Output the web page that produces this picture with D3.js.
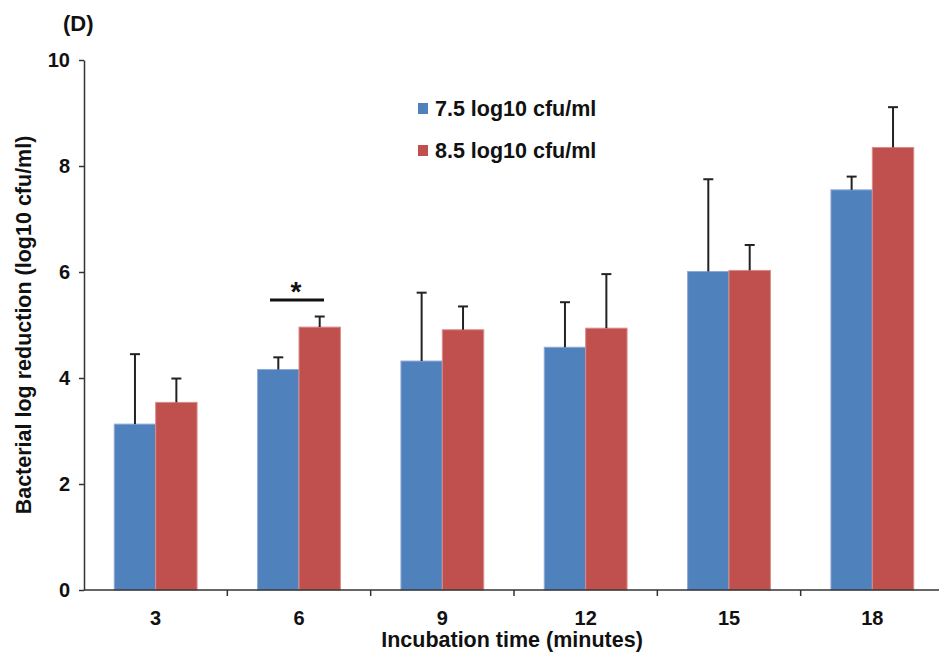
<!DOCTYPE html>
<html>
<head>
<meta charset="utf-8">
<script src="https://cdn.jsdelivr.net/npm/d3@7"></script>
<style>
  body { margin: 0; background: #fff; }
  text { font-family: Arial, "Liberation Sans", sans-serif; font-weight: bold; fill: #111; }
</style>
</head>
<body>
<svg width="939" height="667"></svg>
<script>
var width = 939, height = 667

// data
var times = ["3", "6", "9", "12", "15", "18"]
var seriesNames = ["7.5 log10 cfu/ml", "8.5 log10 cfu/ml"]
var low = [3.13, 4.16, 4.32, 4.58, 6.01, 7.55]
var lowErr = [1.32, 0.23, 1.29, 0.85, 1.74, 0.25]
var high = [3.54, 4.96, 4.91, 4.94, 6.03, 8.35]
var highErr = [0.45, 0.2, 0.44, 1.02, 0.48, 0.76]
var yTicks = [0, 2, 4, 6, 8, 10]
var colors = ["#4F81BD", "#C0504D"]
var edges = ["#8EAAD6", "#D98B89"]

var svg = d3.select("svg")

var x = d3.scaleBand().domain(times).range([84, 944]).paddingInner(0).paddingOuter(0)
var y = d3.scaleLinear().domain([0, 10]).range([590, 60])
var barW = 41.4

var rows = times.map(function(t, i) {
    return [
        {t: t, s: 0, v: low[i], e: lowErr[i]},
        {t: t, s: 1, v: high[i], e: highErr[i]}
    ]
}).flat()

function cx(d) {
    return x(d.t) + x.bandwidth() / 2 - barW / 2 + d.s * barW
}

// bars
svg.append("g").selectAll("rect")
    .data(rows)
    .join("rect")
    .attr("x", function(d) { return cx(d) - barW / 2 })
    .attr("y", function(d) { return y(d.v) })
    .attr("width", barW)
    .attr("height", function(d) { return y(0) - y(d.v) })
    .attr("fill", function(d) { return colors[d.s] })
    .attr("stroke", function(d) { return edges[d.s] })
    .attr("stroke-width", 1)

// error bars (upper only)
var eb = svg.append("g").attr("stroke", "#222").attr("stroke-width", 2)
eb.selectAll("line.v")
    .data(rows)
    .join("line")
    .attr("class", "v")
    .attr("x1", cx).attr("x2", cx)
    .attr("y1", function(d) { return y(d.v) })
    .attr("y2", function(d) { return y(d.v + d.e) })
eb.selectAll("line.c")
    .data(rows)
    .join("line")
    .attr("class", "c")
    .attr("x1", function(d) { return cx(d) - 5 })
    .attr("x2", function(d) { return cx(d) + 5 })
    .attr("y1", function(d) { return y(d.v + d.e) })
    .attr("y2", function(d) { return y(d.v + d.e) })

// y axis
var yAxis = svg.append("g")
    .attr("transform", "translate(84,0)")
    .call(d3.axisLeft(y).tickValues(yTicks).tickSize(5).tickSizeOuter(0).tickPadding(9))
yAxis.select(".domain").attr("stroke", "#333").attr("stroke-width", 1.5)
yAxis.selectAll(".tick line").attr("stroke", "#333").attr("stroke-width", 1.5)
yAxis.selectAll(".tick text").attr("font-size", 20).attr("font-family", "Arial, 'Liberation Sans', sans-serif").attr("fill", "#111")

// x axis: line plus ticks at band boundaries
var xg = svg.append("g").attr("transform", "translate(0," + y(0) + ")")
xg.append("line").attr("x1", 84).attr("x2", 944).attr("stroke", "#333").attr("stroke-width", 1.5)
xg.selectAll("line.tk")
    .data(times.slice(1))
    .join("line")
    .attr("class", "tk")
    .attr("x1", function(d) { return x(d) })
    .attr("x2", function(d) { return x(d) })
    .attr("y1", 0).attr("y2", 6)
    .attr("stroke", "#333").attr("stroke-width", 1.5)
xg.selectAll("text")
    .data(times)
    .join("text")
    .attr("x", function(d) { return x(d) + x.bandwidth() / 2 })
    .attr("y", 35)
    .attr("text-anchor", "middle")
    .attr("font-size", 20)
    .text(function(d) { return d })

// axis titles
svg.append("text")
    .attr("x", 512).attr("y", 647)
    .attr("text-anchor", "middle")
    .attr("font-size", 21.5)
    .text("Incubation time (minutes)")
svg.append("text")
    .attr("transform", "translate(31,325) rotate(-90)")
    .attr("text-anchor", "middle")
    .attr("font-size", 21.5)
    .text("Bacterial log reduction (log10 cfu/ml)")

// panel label
svg.append("text").attr("x", 63).attr("y", 31).attr("font-size", 22).text("(D)")

// legend
var lg = svg.append("g").selectAll("g")
    .data(seriesNames)
    .join("g")
    .attr("transform", function(d, i) { return "translate(418," + (103 + i * 42) + ")" })
lg.append("rect").attr("width", 10).attr("height", 11).attr("fill", function(d, i) { return colors[i] })
lg.append("text").attr("x", 17).attr("y", 13).attr("font-size", 21.5).text(function(d) { return d })

// significance marker at 6 minutes
svg.append("line")
    .attr("x1", 270).attr("x2", 324).attr("y1", 300).attr("y2", 300)
    .attr("stroke", "#111").attr("stroke-width", 3)
svg.append("text")
    .attr("x", 296).attr("y", 301)
    .attr("text-anchor", "middle")
    .attr("font-size", 28)
    .text("*")
</script>
</body>
</html>
